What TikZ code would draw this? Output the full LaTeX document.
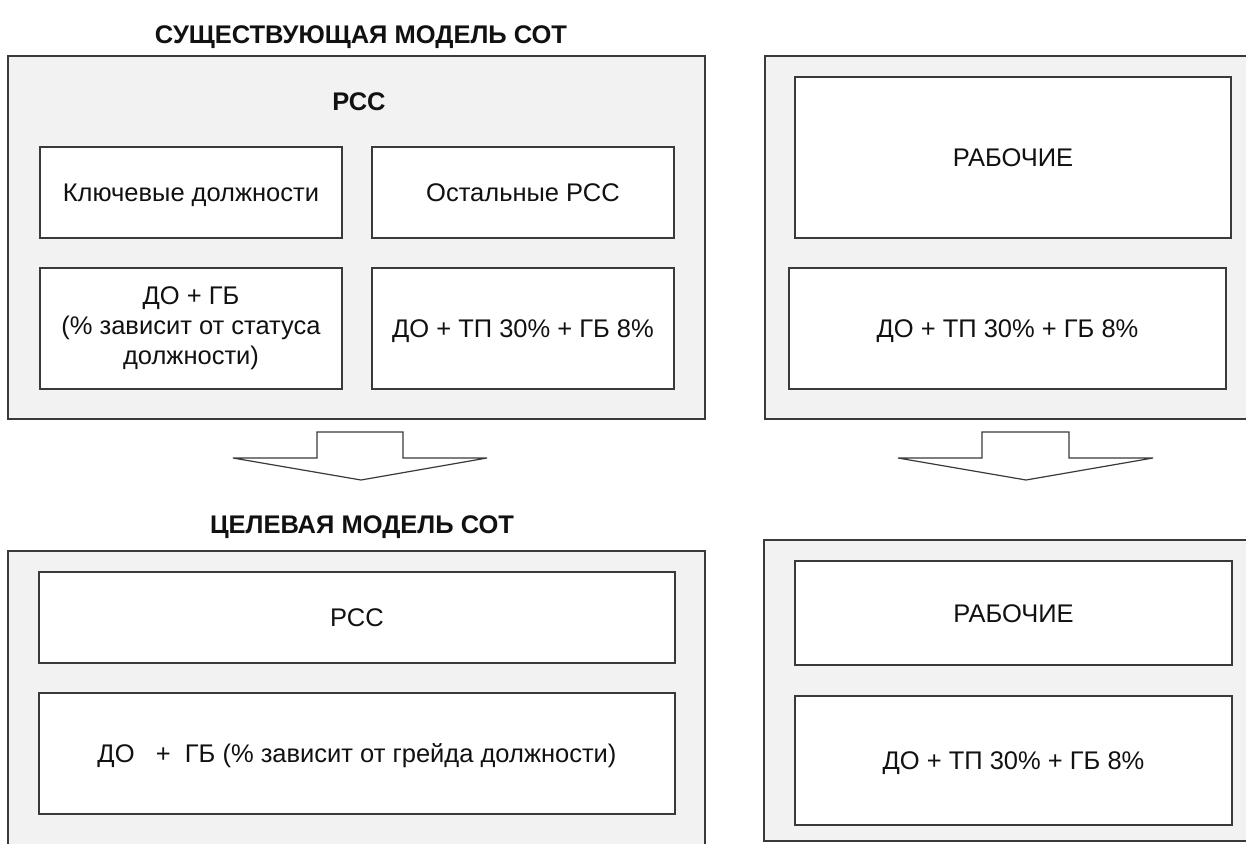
\documentclass[tikz,border=0pt]{standalone}
\usepackage{fontspec}
\setmainfont{Liberation Sans}
\definecolor{edge}{HTML}{3A3A3A}
\definecolor{panel}{HTML}{F2F2F2}
\definecolor{ink}{HTML}{111111}
\begin{document}
\begin{tikzpicture}[x=1pt,y=-1pt,
  outerbox/.style={draw=edge, fill=panel, line width=1.4pt, inner sep=0pt, minimum width=#1},
  cell/.style={draw=edge, fill=white, line width=1.4pt, inner sep=0pt, align=center, text=ink,
     font=\fontsize{25.5}{30}\selectfont},
  oneline/.style={text height=18pt, text depth=0pt},
  heading/.style={inner sep=0pt, text=ink, text height=18pt, text depth=0pt,
     font=\fontsize{25.5}{30}\selectfont\bfseries},
  blockarrow/.style={draw=edge, fill=white, line width=1.2pt, line join=miter}]
\useasboundingbox (0,0) rectangle (1246,843);
\clip (0,0) rectangle (1246,843);
\fill[white] (0,0) rectangle (1246,843);

% titles
\node[heading] (t1) at (361,35) {СУЩЕСТВУЮЩАЯ МОДЕЛЬ СОТ};
\node[heading] (t2) at (362,524) {ЦЕЛЕВАЯ МОДЕЛЬ СОТ};

% outer panels
\node[outerbox=697pt, minimum height=363pt] (o1) at (356.5,237.5) {};
\node[outerbox=500pt, minimum height=363pt] (o2) at (1015,237.5) {};
\node[outerbox=697pt, minimum height=320pt] (o3) at (356.5,711) {};
\node[outerbox=500pt, minimum height=301pt] (o4) at (1014,690.5) {};

% existing model, left
\node[heading] (pcc) at (359,101) {РСС};
\node[cell, oneline, minimum width=302pt, minimum height=91pt] (kd) at (191,192.5) {Ключевые должности};
\node[cell, oneline, minimum width=302pt, minimum height=91pt] (op) at (523,192.5) {Остальные РСС};
\node[cell, minimum width=302pt, minimum height=121pt] (dg) at (191,328.5) {ДО + ГБ\\(\% зависит от статуса\\должности)};
\node[cell, oneline, minimum width=302pt, minimum height=121pt] (dt) at (523,328.5) {ДО + ТП 30\% + ГБ 8\%};

% existing model, right
\node[cell, oneline, minimum width=436pt, minimum height=161pt] (r1) at (1013,157.5) {РАБОЧИЕ};
\node[cell, oneline, minimum width=437pt, minimum height=121pt] (r2) at (1007.5,328.5) {ДО + ТП 30\% + ГБ 8\%};

% target model, left
\node[cell, oneline, minimum width=636pt, minimum height=91pt] (p2) at (357,617.5) {РСС};
\node[cell, oneline, minimum width=636pt, minimum height=121pt] (g2) at (357,753.5) {ДО\ \ \ +\ \ ГБ (\% зависит от грейда должности)};

% target model, right
\node[cell, oneline, minimum width=437pt, minimum height=104pt] (r3) at (1013.5,613) {РАБОЧИЕ};
\node[cell, oneline, minimum width=437pt, minimum height=129pt] (r4) at (1013.5,760.5) {ДО + ТП 30\% + ГБ 8\%};

% block arrows
\draw[blockarrow] (317,432) -- (403,432) -- (403,458) -- (487,458) -- (361,480) -- (233,458) -- (317,458) -- cycle;
\draw[blockarrow] (982,432) -- (1069,432) -- (1069,458) -- (1153,458) -- (1026,480) -- (898,458) -- (982,458) -- cycle;
\end{tikzpicture}
\end{document}
